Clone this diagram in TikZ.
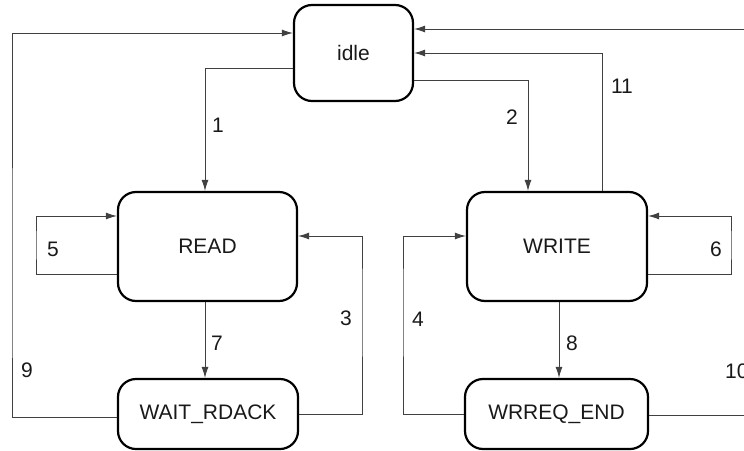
\documentclass[tikz,border=0pt]{standalone}
\usepackage{fontspec}
\setmainfont{Liberation Sans}
\usetikzlibrary{arrows.meta}
\begin{document}
\begin{tikzpicture}[x=1pt,y=-1pt,
 state/.style={draw=black, line width=2.2pt, rounded corners=18pt, font=\fontsize{21}{23}\selectfont, text=black!90},
 conn/.style={draw=black!75, line width=1pt, -{Latex[length=11pt,width=7pt]}},
 lab/.style={font=\fontsize{21}{23}\selectfont, text=black!90}]
\useasboundingbox (0,0) rectangle (744,450);
\node[state, minimum width=119pt, minimum height=96pt] (idle) at (353.5,53) {idle};
\node[state, minimum width=179pt, minimum height=109pt] (read) at (207.5,246.5) {READ};
\node[state, minimum width=180pt, minimum height=109pt] (write) at (557,246.5) {WRITE};
\node[state, minimum width=180pt, minimum height=70pt] (wait) at (208,414) {WAIT\_RDACK};
\node[state, minimum width=183pt, minimum height=70pt] (wrreq) at (556.5,414) {WRREQ\_END};
\coordinate (far) at (750,0);
% 1
\draw[conn] (idle.west |- 0,68) -| (read.north -| 205,0);
% 2
\draw[conn] (idle.east |- 0,80) -| (write.north -| 528,0);
% 11
\draw[conn] (write.north -| 602,0) |- (idle.east |- 0,53);
% 10
\draw[conn] (wrreq.east |- 0,415) -| (far |- 0,300) |- (idle.east |- 0,29);
% 9
\draw[conn] (wait.west |- 0,417) -| (12,300) |- (idle.west |- 0,33);
% 5
\draw[conn] (read.west |- 0,274) -| (36,245) |- (read.west |- 0,216);
% 7
\draw[conn] (read.south -| 205,0) -- (wait.north -| 205,0);
% 3
\draw[conn] (wait.east |- 0,414) -| (362,300) |- (read.east |- 0,236);
% 6
\draw[conn] (write.east |- 0,274) -| (731,245) |- (write.east |- 0,216);
% 4
\draw[conn] (wrreq.west |- 0,414) -| (403,300) |- (write.west |- 0,236);
% 8
\draw[conn] (write.south -| 559,0) -- (wrreq.north -| 559,0);
% labels
\node[lab] (l1) at (218,125) {1};
\node[lab] (l2) at (512,117) {2};
\node[lab] (l3) at (346,318) {3};
\node[lab] (l4) at (418,319) {4};
\node[lab] (l5) at (53,249) {5};
\node[lab] (l6) at (716,249) {6};
\node[lab] (l7) at (217,343) {7};
\node[lab] (l8) at (572,343) {8};
\node[lab] (l9) at (27,370) {9};
\node[lab, anchor=west, inner sep=0pt] (l10) at (725,371) {10};
\node[lab] (l11) at (622,86) {11};
\end{tikzpicture}
\end{document}
